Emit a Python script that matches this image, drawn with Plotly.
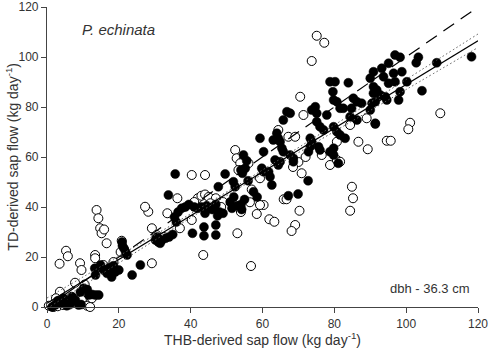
import plotly.graph_objects as go

# ---- data ----
filled_pts = [
    (1.4,0),(2.3,0.8),(3.7,1.5),(4.6,3.5),(6.5,1.5),(7.9,2.8),(8.8,0.8),(9.3,6),(10.2,7.5),(11.2,7),
    (11.6,4.8),(13.5,4.8),(14.4,4.8),(5.5,0.5),(7,4),(9.5,1),(3,2.5),(12.5,5),
    (13.5,12.8),(13.3,15.5),(14.9,16.8),(15.8,14.8),(16.7,13.5),(18,12),(19,14),(20,14.8),(17.2,15.5),(18.5,16.5),
    (20.9,26),(21.4,23.5),(21.9,22),(22.3,20.8),(21,24.5),(23.7,12.8),(26,16.8),
    (30.2,26.8),(31,26),(32,26.8),(33,27.5),(30.7,28),(31.5,25.5),(34,28),(35,29),(33.8,44.8),
    (35.5,36),(36.5,38),(37.5,39.5),(38.5,40),(39.5,41),(41,40),(42,39.5),(43,40),(44.5,40.5),(46,39),
    (47,41),(48,38),(49,37.5),(44,37.5),(47.5,36.5),(36,34),
    (40.5,29.5),(43.7,32),(43.7,28.5),(47,32.8),(47,28.8),
    (35.7,53.2),(49.6,53.2),(47.7,48.1),(51.9,50.1),(52.4,48.1),
    (51,42),(52,44),(53,40.5),(54,41),(55,43),(51.5,39.5),(54.2,39),
    (54.7,60.8),(55.2,55.5),(54.7,55),(54,54.8),(54.4,53.5),(55.6,58.5),
    (57.5,46.1),(58.5,44),(56,50.5),
    (62.6,48.8),(62.1,52.1),(61.7,54.1),(59.8,55.5),(60.3,54.1),(60.3,62.1),(59.3,67.5),
    (63.5,58.8),(64.9,58.1),(64.4,56.8),(64,69.5),(64.4,67.5),(63,66.8),(64.9,66.1),(65.4,63.5),(65.8,62.1),
    (66.8,78.1),(67.7,77.5),(65.8,74.8),(67.7,60.8),(68.6,59.5),
    (72.7,50.5),(69.9,45.2),(67.2,44.5),(68.6,58.1),(81.1,57.5),(79.8,60.8),
    (73.7,66.1),(73.3,64.1),(72.8,62.1),(75.6,64.1),(76,62.8),(78.8,62.1),(79.8,63.5),
    (73.3,67.5),(83,67.5),(81.6,68.8),(80.7,70.1),(79.8,72.1),(77,70.8),(76,72.1),(75.1,74.1),(84.4,76.1),
    (86.3,74.8),(77.9,76.8),(75.1,77.5),(73.7,78.8),(74.7,80.1),(81.6,79.5),(82.5,79.5),(84.8,79.5),
    (87.6,81.5),(86.3,82.1),(85.3,83.5),(80.7,82.1),(79.8,82.8),(79.6,86.1),(78.8,90.1),(80.2,90.1),(83.9,89.7),
    (90,78.8),(91.4,73.5),(91.4,82.1),(90.5,81.5),(94.6,82.8),(97.9,82.8),(90.9,85.5),(92.8,84.8),(94.2,84.1),
    (98.3,86.1),(104.4,86.5),(91.8,86.8),(90.9,88.1),(95.1,89.5),(96.9,90.1),(100.2,90.1),(90,91.5),(93.7,92.1),
    (96.5,93.5),(98.8,94.1),(90.9,94.1),(93.2,95.5),(95.1,97.5),(96.9,100.8),(98.3,99.9),(103.4,99.9),
    (102.8,97.7),(108.5,97.7),(118.2,100.1),(91.4,73.2),
]
open_pts = [
    (0.5,0.5),(1.8,0),(3,0.3),(4,2),(4.5,0.8),(6.3,1),(3.6,6.1),(6.9,4.1),(8.2,3),(9.7,2.8),(11.2,0.5),
    (12,0),(12.5,3.5),(2.5,3.5),(7.8,9.7),(10.5,9),
    (3.5,17.3),(5.3,22.5),(5.8,20.3),(9.2,17.5),(9.6,14.8),
    (13.8,38.8),(14.3,35.5),(14.8,31.5),(15.2,29.5),(16.6,25.5),(15.9,31),(13.4,20.8),(13.4,19.5),
    (15.7,16.8),(17.6,14.8),(20.8,26.5),(21.5,23),(20.5,22),(18.5,18),
    (28.2,38.1),(27.3,40.1),(29.2,31.5),(29.2,17.5),(33.5,37.5),(36.3,43.5),(37,31.5),(30.5,28.8),
    (31.5,26.8),(32.5,28),
    (40.3,52.8),(44,52.8),(43.5,20.8),(40.3,34.8),
    (42,43.5),(43,44.5),(44,45),(45,44),(47,43.5),(49,42),(48.5,40),(41,42),(45.5,41.5),
    (53,29.5),(54,38),(56.8,16.4),
    (52.4,62.8),(52.8,59.5),(54.7,58.8),(56.1,57.5),(53.8,57.5),(53.3,54.8),
    (58.4,37.2),(56.5,41.9),(60.3,40.8),(59.3,40.8),(61.9,35.1),(63.3,34.1),(59.3,51.5),(57,47),
    (65.9,43.1),(66.7,43.1),(70.3,38.5),(69.1,32.8),(68.1,30.4),(70.9,53.5),
    (84.9,48.1),(85.2,43.5),(84.4,38.5),
    (64.4,70.8),(67.2,68.1),(69.1,68.1),(70.5,84.1),(71.4,76.8),(73.7,98.4),(75.1,108.5),(77.2,105.7),
    (76.5,60.8),(78.8,56.8),(80.7,58.8),(81.6,58.1),(80.7,66.1),(70,58),(72,60),(68.5,56),
    (89,75.5),(84.4,72.8),(89.3,63.1),(86.7,66.1),(94.6,66.5),(95.7,66.5),(101.1,73.7),(100.6,71.1),(109.5,77.5),
]
filled_x = [p[0] for p in filled_pts]
filled_y = [p[1] for p in filled_pts]
open_x = [p[0] for p in open_pts]
open_y = [p[1] for p in open_pts]

one_to_one_x = [0, 120]
one_to_one_y = [0, 120]
fit_x = [0, 120]
fit_y = [1.5, 106.5]
band_x = [0, 20, 40, 60, 80, 100, 120]
band_upper = [3.6, 20.4, 37.3, 54.8, 72.8, 91.0, 109.2]
band_lower = [-0.6, 17.6, 35.7, 53.2, 70.2, 87.0, 103.8]

x_ticks = [0, 20, 40, 60, 80, 100, 120]
y_ticks = [0, 20, 40, 60, 80, 100, 120]

FONT = "Liberation Sans, Arial, sans-serif"
AX = "#444444"
TXT = "#333333"

fig = go.Figure()
fig.add_trace(go.Scatter(x=open_x, y=open_y, mode="markers", cliponaxis=False,
                         marker=dict(size=9, color="white", line=dict(color="black", width=1))))
fig.add_trace(go.Scatter(x=filled_x, y=filled_y, mode="markers", cliponaxis=False,
                         marker=dict(size=9, color="black", line=dict(color="black", width=0.5))))
fig.add_trace(go.Scatter(x=one_to_one_x, y=one_to_one_y, mode="lines",
                         line=dict(color="black", width=1.2, dash="13px,8px")))
fig.add_trace(go.Scatter(x=band_x, y=band_upper, mode="lines", line=dict(color="#555555", width=1, dash="1.5px,2.5px", shape="spline")))
fig.add_trace(go.Scatter(x=band_x, y=band_lower, mode="lines", line=dict(color="#555555", width=1, dash="1.5px,2.5px", shape="spline")))
fig.add_trace(go.Scatter(x=fit_x, y=fit_y, mode="lines", line=dict(color="black", width=1.2)))

axis_common = dict(showgrid=False, zeroline=False, showline=True, linecolor=AX, linewidth=1.2,
                   ticks="outside", ticklen=5, tickwidth=1.2, tickcolor=AX, automargin=False,
                   tickfont=dict(family=FONT, size=12, color=TXT), range=[0, 120])
fig.update_xaxes(**axis_common, tickvals=x_ticks)
fig.update_yaxes(**axis_common, tickvals=y_ticks)

fig.update_layout(
    width=490, height=350, showlegend=False,
    margin=dict(l=47, r=12, t=7, b=43, autoexpand=False),
    plot_bgcolor="white", paper_bgcolor="white",
    font=dict(family=FONT, color=TXT),
    annotations=[
        dict(text="<i>P. echinata</i>", x=9.2, y=111, xref="x", yref="y", showarrow=False,
             xanchor="left", yanchor="middle", font=dict(size=15, color=TXT, family=FONT)),
        dict(text="dbh - 36.3 cm", x=118.4, y=7.6, xref="x", yref="y", showarrow=False,
             xanchor="right", yanchor="middle", font=dict(size=13, color=TXT, family=FONT)),
        dict(text="THB-derived sap flow (kg day<sup>-1</sup>)", x=0.5, y=-0.07, xref="paper", yref="paper",
             showarrow=False, xanchor="center", yanchor="top", font=dict(size=14, color=TXT, family=FONT)),
        dict(text="TD-derived sap flow (kg day<sup>-1</sup>)", x=-0.082, y=0.5, xref="paper", yref="paper",
             showarrow=False, xanchor="center", yanchor="middle", textangle=-90,
             font=dict(size=14, color=TXT, family=FONT)),
    ],
)
fig.write_html("out.html", config={"displayModeBar": False},
               post_script="document.body.style.margin='0';document.body.style.overflow='hidden';")
